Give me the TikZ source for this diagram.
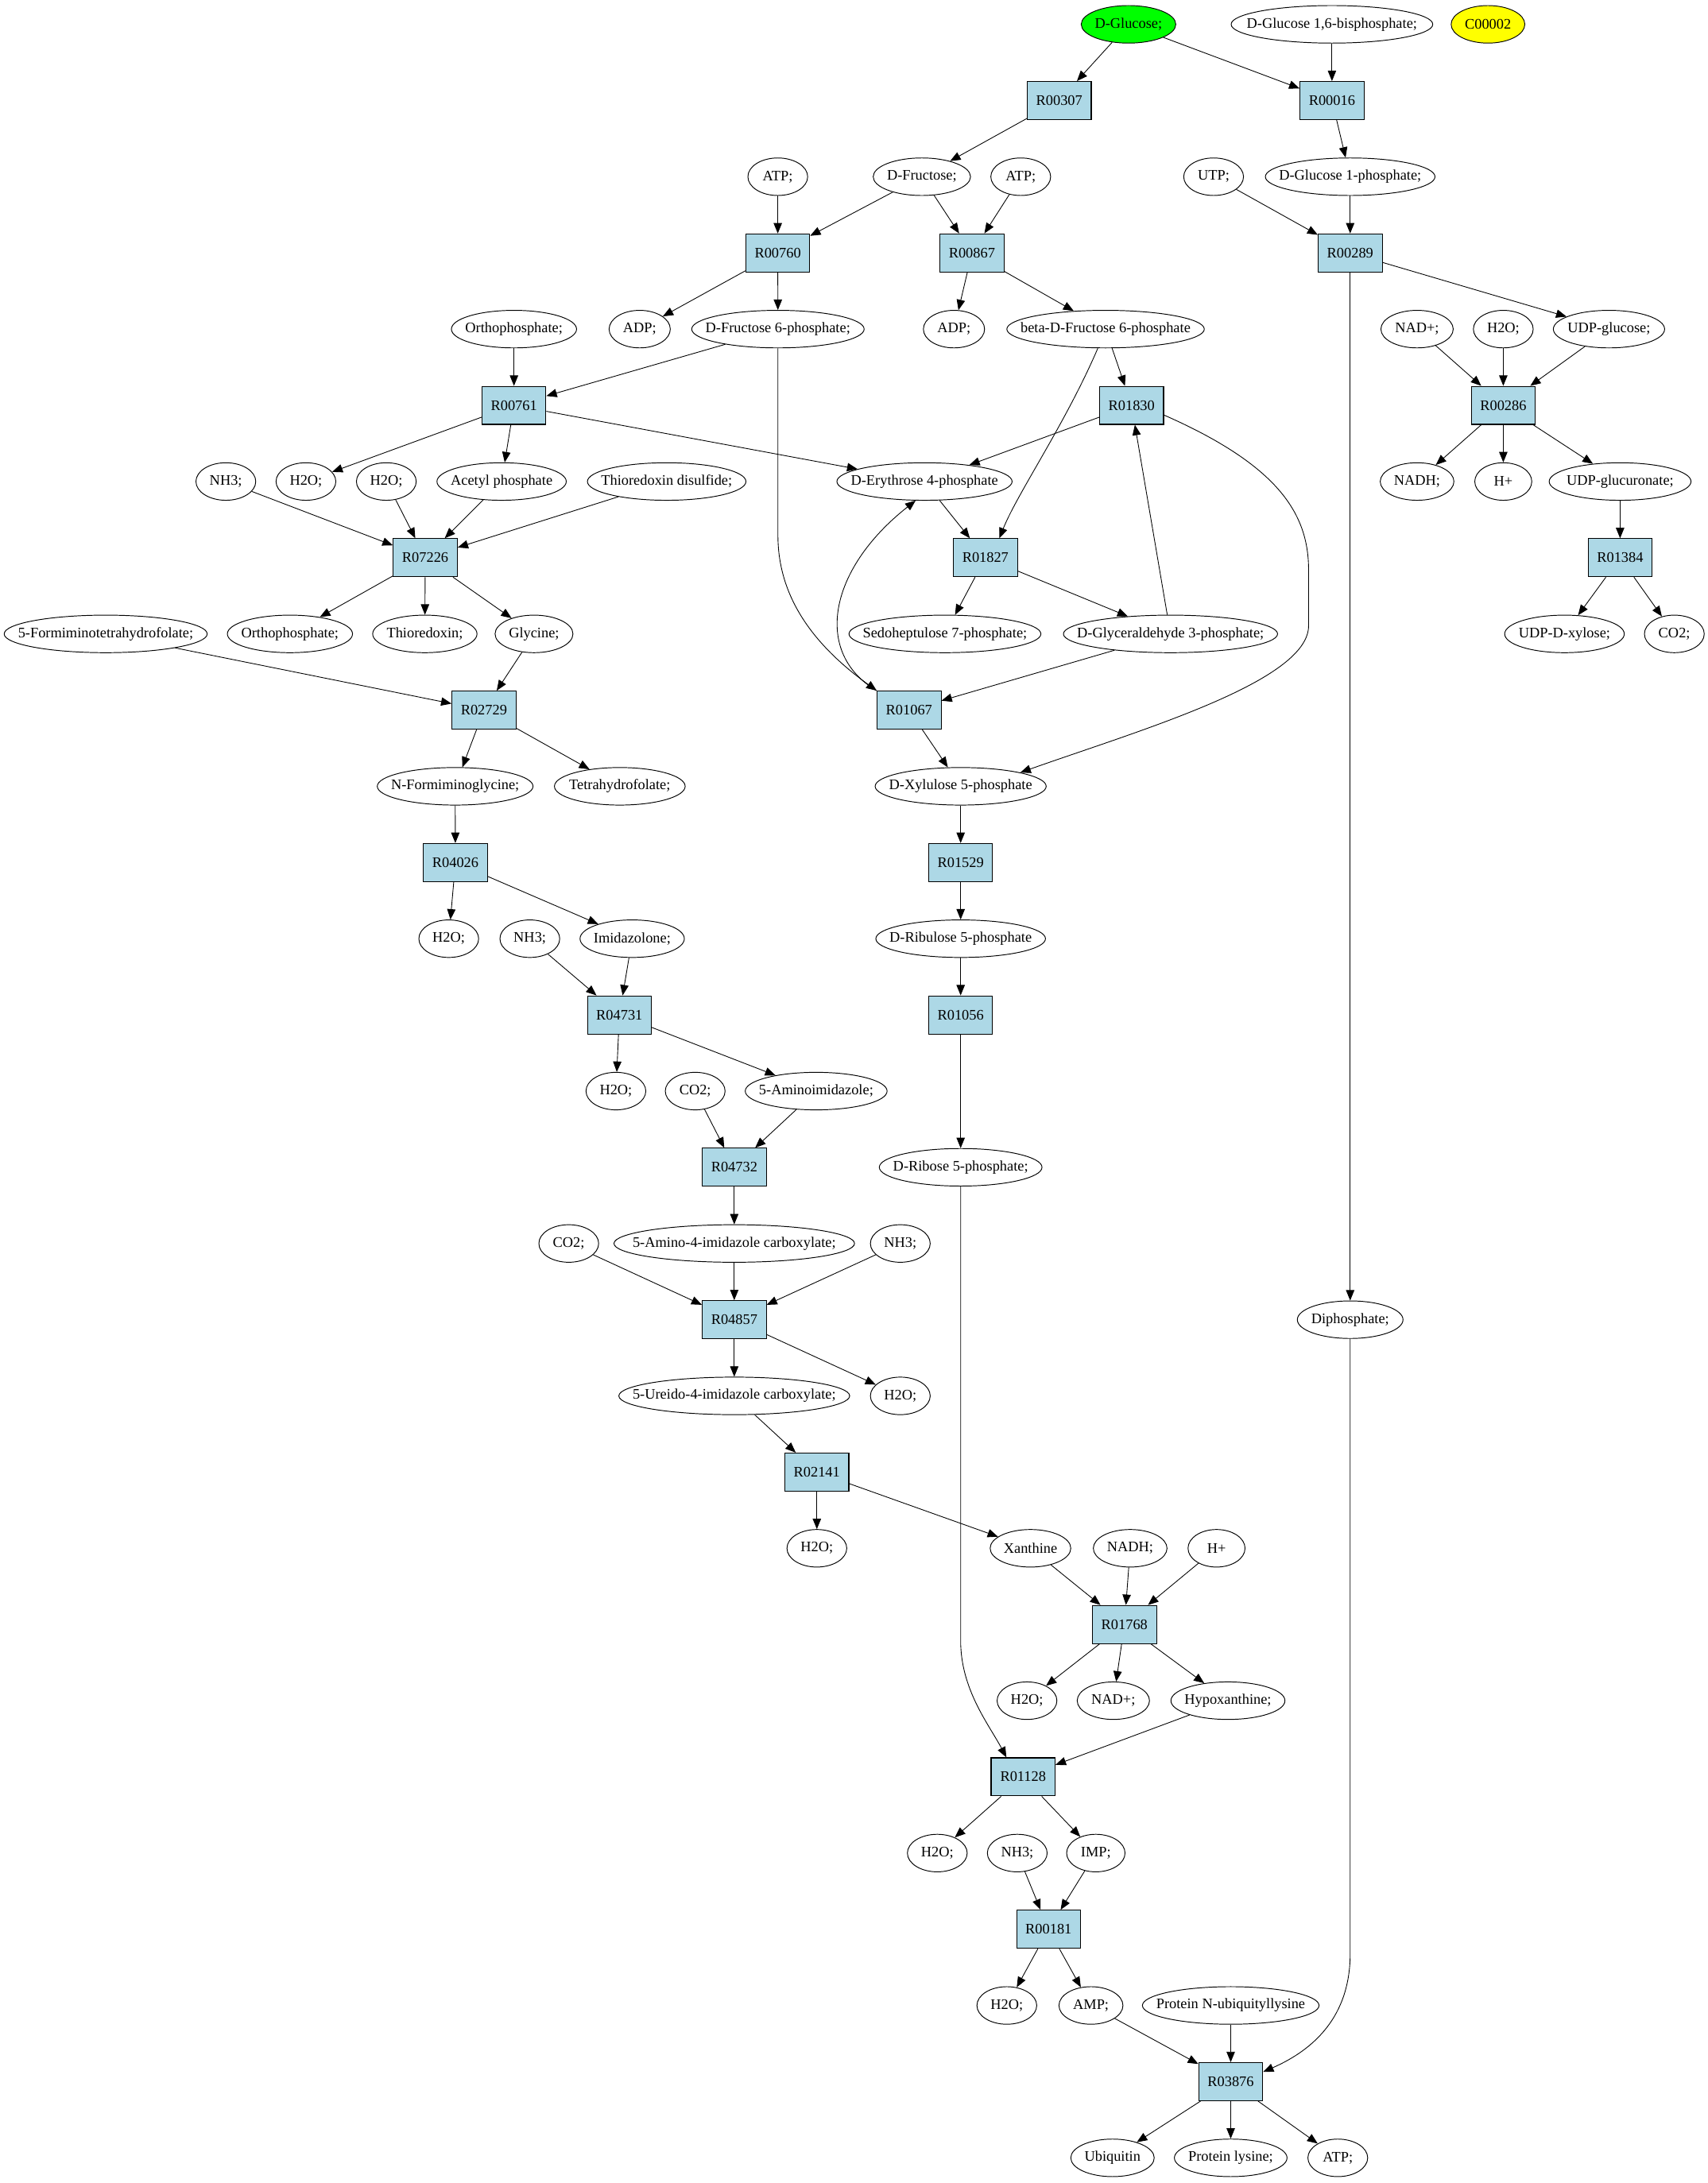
\documentclass[tikz,border=0pt]{standalone}
\usepackage{fontspec}
\setmainfont{Liberation Serif}
\usetikzlibrary{arrows.meta,shapes.geometric}
\definecolor{boxblue}{HTML}{ADD8E6}
\definecolor{glugreen}{HTML}{00FF00}
\definecolor{cyellow}{HTML}{FFFF00}
\begin{document}
\begin{tikzpicture}[x=1pt,y=-1pt,
  met/.style={ellipse,draw,line width=0.55pt,inner xsep=-200pt,inner ysep=-50pt,minimum height=27pt,font=\fontsize{10.5pt}{12pt}\selectfont},
  rxn/.style={rectangle,draw,line width=0.6pt,fill=boxblue,minimum width=46pt,minimum height=27.4pt,inner sep=0pt,font=\fontsize{10.5pt}{12pt}\selectfont},
  conn/.style={line width=0.5pt,-{Triangle[length=7.5pt,width=6pt]}}
]
\useasboundingbox (0,0) rectangle (1228,1570);

% row 0
\node[met,fill=glugreen,minimum width=68pt] (glc) at (811.5,17.5) {D-Glucose;};
\node[met,minimum width=145pt] (g16bp) at (957.8,17.5) {D-Glucose 1,6-bisphosphate;};
\node[met,fill=cyellow,minimum width=53pt] (c2) at (1070,17.5) {C00002};
% row 1
\node[rxn] (r00307) at (761.7,72.3) {R00307};
\node[rxn] (r00016) at (957.8,72.3) {R00016};
% row 2
\node[met,minimum width=43pt] (atp1) at (559.3,127.1) {ATP;};
\node[met,minimum width=70pt] (fru) at (662.9,127.1) {D-Fructose;};
\node[met,minimum width=43pt] (atp2) at (734,127.1) {ATP;};
\node[met,minimum width=43pt] (utp) at (872.7,127.1) {UTP;};
\node[met,minimum width=122pt] (g1p) at (970.9,127.1) {D-Glucose 1-phosphate;};
% row 3
\node[rxn] (r00760) at (559.3,181.9) {R00760};
\node[rxn] (r00867) at (698.9,181.9) {R00867};
\node[rxn] (r00289) at (970.9,181.9) {R00289};
% row 4
\node[met,minimum width=90pt] (pi1) at (369.6,236.7) {Orthophosphate;};
\node[met,minimum width=44pt] (adp1) at (460,236.7) {ADP;};
\node[met,minimum width=124pt] (f6p) at (559.4,236.7) {D-Fructose 6-phosphate;};
\node[met,minimum width=44pt] (adp2) at (686,236.7) {ADP;};
\node[met,minimum width=142pt] (bf6p) at (795,236.7) {beta-D-Fructose 6-phosphate};
\node[met,minimum width=52pt] (nad1) at (1019,236.7) {NAD+;};
\node[met,minimum width=43pt] (h2o1) at (1081,236.7) {H2O;};
\node[met,minimum width=80pt] (udpg) at (1157,236.7) {UDP-glucose;};
% row 5
\node[rxn] (r00761) at (369.6,291.5) {R00761};
\node[rxn] (r01830) at (813.7,291.5) {R01830};
\node[rxn] (r00286) at (1081,291.5) {R00286};
% row 6
\node[met,minimum width=43pt] (nh3a) at (162.4,346.3) {NH3;};
\node[met,minimum width=43pt] (h2o2) at (220,346.3) {H2O;};
\node[met,minimum width=43pt] (h2o3) at (277.8,346.3) {H2O;};
\node[met,minimum width=93pt] (acp) at (360.7,346.3) {Acetyl phosphate};
\node[met,minimum width=114pt] (trxs) at (479.4,346.3) {Thioredoxin disulfide;};
\node[met,minimum width=126pt] (e4p) at (664.8,346.3) {D-Erythrose 4-phosphate};
\node[met,minimum width=53pt] (nadh1) at (1019,346.3) {NADH;};
\node[met,minimum width=41pt] (hp1) at (1081,346.3) {H+};
\node[met,minimum width=102pt] (udpga) at (1165,346.3) {UDP-glucuronate;};
% row 7
\node[rxn] (r07226) at (305.8,401.1) {R07226};
\node[rxn] (r01827) at (708.6,401.1) {R01827};
\node[rxn] (r01384) at (1165,401.1) {R01384};
% row 8
\node[met,minimum width=146pt] (fthf) at (76,455.9) {5-Formiminotetrahydrofolate;};
\node[met,minimum width=90pt] (pi2) at (208.5,455.9) {Orthophosphate;};
\node[met,minimum width=75pt] (trx) at (305.5,455.9) {Thioredoxin;};
\node[met,minimum width=56pt] (gly) at (384,455.9) {Glycine;};
\node[met,minimum width=138pt] (s7p) at (679.5,455.9) {Sedoheptulose 7-phosphate;};
\node[met,minimum width=154pt] (gap) at (841.7,455.9) {D-Glyceraldehyde 3-phosphate;};
\node[met,minimum width=86pt] (udpx) at (1125,455.9) {UDP-D-xylose;};
\node[met,minimum width=43pt] (co2a) at (1204,455.9) {CO2;};
% row 9
\node[rxn] (r02729) at (348,510.7) {R02729};
\node[rxn] (r01067) at (653.7,510.7) {R01067};
% row 10
\node[met,minimum width=112pt] (fig) at (327.3,565.5) {N-Formiminoglycine;};
\node[met,minimum width=94pt] (thf) at (445.7,565.5) {Tetrahydrofolate;};
\node[met,minimum width=123pt] (xu5p) at (690.8,565.5) {D-Xylulose 5-phosphate};
% row 11
\node[rxn] (r04026) at (327.5,620.3) {R04026};
\node[rxn] (r01529) at (690.8,620.3) {R01529};
% row 12
\node[met,minimum width=43pt] (h2o4) at (322.7,675.1) {H2O;};
\node[met,minimum width=43pt] (nh3b) at (381,675.1) {NH3;};
\node[met,minimum width=75pt] (imz) at (454.6,675.1) {Imidazolone;};
\node[met,minimum width=122pt] (ru5p) at (690.8,675.1) {D-Ribulose 5-phosphate};
% row 13
\node[rxn] (r04731) at (445.4,729.9) {R04731};
\node[rxn] (r01056) at (690.8,729.9) {R01056};
% row 14
\node[met,minimum width=43pt] (h2o5) at (442.9,784.7) {H2O;};
\node[met,minimum width=43pt] (co2b) at (499.9,784.7) {CO2;};
\node[met,minimum width=102pt] (air) at (586.9,784.7) {5-Aminoimidazole;};
% row 15
\node[rxn] (r04732) at (528,839.5) {R04732};
\node[met,minimum width=117pt] (r5p) at (690.8,839.5) {D-Ribose 5-phosphate;};
% row 16
\node[met,minimum width=43pt] (co2c) at (409,894.3) {CO2;};
\node[met,minimum width=173pt] (caair) at (528,894.3) {5-Amino-4-imidazole carboxylate;};
\node[met,minimum width=43pt] (nh3c) at (647.4,894.3) {NH3;};
% row 17
\node[rxn] (r04857) at (528,949.1) {R04857};
\node[met,minimum width=76pt] (ppi) at (970.9,949.1) {Diphosphate;};
% row 18
\node[met,minimum width=166pt] (uaic) at (528,1003.9) {5-Ureido-4-imidazole carboxylate;};
\node[met,minimum width=43pt] (h2o6) at (647.4,1003.9) {H2O;};
% row 19
\node[rxn] (r02141) at (587.4,1058.7) {R02141};
% row 20
\node[met,minimum width=43pt] (h2o7) at (587.4,1113.5) {H2O;};
\node[met,minimum width=58pt] (xan) at (741,1113.5) {Xanthine};
\node[met,minimum width=53pt] (nadh2) at (812.7,1113.5) {NADH;};
\node[met,minimum width=41pt] (hp2) at (874.8,1113.5) {H+};
% row 21
\node[rxn] (r01768) at (808.6,1168.3) {R01768};
% row 22
\node[met,minimum width=43pt] (h2o8) at (738.5,1223.1) {H2O;};
\node[met,minimum width=52pt] (nad2) at (800.6,1223.1) {NAD+;};
\node[met,minimum width=82pt] (hx) at (883,1223.1) {Hypoxanthine;};
% row 23
\node[rxn] (r01128) at (735.7,1277.9) {R01128};
% row 24
\node[met,minimum width=43pt] (h2o9) at (674,1332.7) {H2O;};
\node[met,minimum width=43pt] (nh3d) at (731.5,1332.7) {NH3;};
\node[met,minimum width=42pt] (imp) at (788,1332.7) {IMP;};
% row 25
\node[rxn] (r00181) at (754,1387.5) {R00181};
% row 26
\node[met,minimum width=43pt] (h2o10) at (724,1442.3) {H2O;};
\node[met,minimum width=46pt] (amp) at (784.5,1442.3) {AMP;};
\node[met,minimum width=127pt] (pnu) at (885,1442.3) {Protein N-ubiquityllysine};
% row 27
\node[rxn] (r03876) at (885,1497.1) {R03876};
% row 28
\node[met,minimum width=60pt] (ub) at (800,1551.9) {Ubiquitin};
\node[met,minimum width=81pt] (plys) at (885,1551.9) {Protein lysine;};
\node[met,minimum width=43pt] (atp3) at (962,1551.9) {ATP;};

% ---------- edges ----------
\draw[conn] (glc) -- (r00307);
\draw[conn] (glc) -- (r00016);
\draw[conn] (g16bp) -- (r00016);
\draw[conn] (r00307) -- (fru);
\draw[conn] (r00016) -- (g1p);
\draw[conn] (atp1) -- (r00760);
\draw[conn] (fru) -- (r00760);
\draw[conn] (fru) -- (r00867);
\draw[conn] (atp2) -- (r00867);
\draw[conn] (utp) -- (r00289);
\draw[conn] (g1p) -- (r00289);
\draw[conn] (r00760) -- (adp1);
\draw[conn] (r00760) -- (f6p);
\draw[conn] (r00867) -- (adp2);
\draw[conn] (r00867) -- (bf6p);
\draw[conn] (r00289) -- (udpg);
\draw[conn] (r00289) -- (ppi);
\draw[conn] (pi1) -- (r00761);
\draw[conn] (f6p) -- (r00761);
\draw[conn] (f6p.south) -- (559.4,385) .. controls (559.4,432) and (588,466) .. (r01067.north west);
\draw[conn] (bf6p) -- (r01830);
\draw[conn] (bf6p.-112) .. controls (766,305) and (732,354) .. ([xshift=10pt]r01827.north);
\draw[conn] (nad1) -- (r00286);
\draw[conn] (h2o1) -- (r00286);
\draw[conn] (udpg) -- (r00286);
\draw[conn] (r00761) -- (h2o2);
\draw[conn] (r00761) -- (acp);
\draw[conn] (r00761) -- (e4p);
\draw[conn] (r01830) -- (e4p);
\draw[conn] ([yshift=-7pt]r01830.east) .. controls (920,335) and (941,370) .. (941,410) -- (941,450) .. controls (941,490) and (820,525) .. (xu5p.13);
\draw[conn] (r00286) -- (nadh1);
\draw[conn] (r00286) -- (hp1);
\draw[conn] (r00286) -- (udpga);
\draw[conn] (nh3a) -- (r07226);
\draw[conn] (h2o3) -- (r07226);
\draw[conn] (acp) -- (r07226);
\draw[conn] (trxs) -- (r07226);
\draw[conn] (e4p) -- (r01827);
\draw[conn] (gap) -- (r01830);
\draw[conn] (udpga) -- (r01384);
\draw[conn] (r07226) -- (pi2);
\draw[conn] (r07226) -- (trx);
\draw[conn] (r07226) -- (gly);
\draw[conn] (r01827) -- (s7p);
\draw[conn] (r01827) -- (gap);
\draw[conn] (r01384) -- (udpx);
\draw[conn] (r01384) -- (co2a);
\draw[conn] (fthf) -- (r02729);
\draw[conn] (gly) -- (r02729);
\draw[conn] (gap) -- (r01067);
\draw[conn] (r01067.north west) .. controls (585,470) and (595,410) .. (e4p.-115);
\draw[conn] (r02729) -- (fig);
\draw[conn] (r02729) -- (thf);
\draw[conn] (r01067) -- (xu5p);
\draw[conn] (fig) -- (r04026);
\draw[conn] (xu5p) -- (r01529);
\draw[conn] (r04026) -- (h2o4);
\draw[conn] (r04026) -- (imz);
\draw[conn] (r01529) -- (ru5p);
\draw[conn] (nh3b) -- (r04731);
\draw[conn] (imz) -- (r04731);
\draw[conn] (ru5p) -- (r01056);
\draw[conn] (r04731) -- (h2o5);
\draw[conn] (r04731) -- (air);
\draw[conn] (r01056) -- (r5p);
\draw[conn] (co2b) -- (r04732);
\draw[conn] (air) -- (r04732);
\draw[conn] (r04732) -- (caair);
\draw[conn] (co2c) -- (r04857);
\draw[conn] (caair) -- (r04857);
\draw[conn] (nh3c) -- (r04857);
\draw[conn] (r04857) -- (uaic);
\draw[conn] (r04857) -- (h2o6);
\draw[conn] (uaic) -- (r02141);
\draw[conn] (r02141) -- (h2o7);
\draw[conn] (r02141) -- (xan);
\draw[conn] (xan) -- (r01768);
\draw[conn] (nadh2) -- (r01768);
\draw[conn] (hp2) -- (r01768);
\draw[conn] (r01768) -- (h2o8);
\draw[conn] (r01768) -- (nad2);
\draw[conn] (r01768) -- (hx);
\draw[conn] (r5p.south) -- (690.8,1180) .. controls (690.8,1215) and (711,1240) .. ([xshift=-12pt]r01128.north);
\draw[conn] (hx) -- (r01128);
\draw[conn] (r01128) -- (h2o9);
\draw[conn] (r01128) -- (imp);
\draw[conn] (nh3d) -- (r00181);
\draw[conn] (imp) -- (r00181);
\draw[conn] (r00181) -- (h2o10);
\draw[conn] (r00181) -- (amp);
\draw[conn] (amp) -- (r03876);
\draw[conn] (pnu) -- (r03876);
\draw[conn] (ppi.south) -- (970.9,1405) .. controls (970.9,1450) and (945,1474) .. ([yshift=7pt]r03876.east);
\draw[conn] (r03876) -- (ub);
\draw[conn] (r03876) -- (plys);
\draw[conn] (r03876) -- (atp3);
\end{tikzpicture}
\end{document}
